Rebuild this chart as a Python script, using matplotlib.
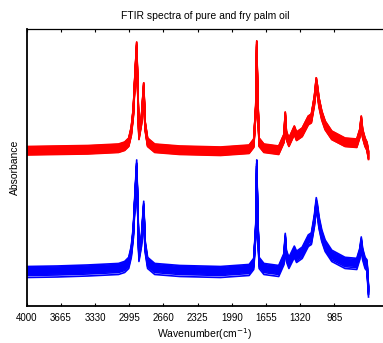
import numpy as np
import matplotlib
matplotlib.use('Agg')
import matplotlib.pyplot as plt

plt.rcParams['font.family'] = ['Liberation Sans', 'DejaVu Sans']

# wavenumber grid (cm^-1)
wavenumber = [4000, 3700, 3400, 3100, 3040, 3000, 2975, 2955, 2940, 2922,
              2912, 2900, 2875, 2853, 2840, 2815, 2745, 2500, 2100, 1820,
              1775, 1755, 1745, 1737, 1722, 1675, 1530, 1478, 1466, 1455,
              1430, 1377, 1355, 1300, 1240, 1210, 1180, 1162, 1150, 1135,
              1108, 1075, 1010, 880, 765, 735, 721, 708, 684, 665, 650]

# upper group (red), stacked absorbance
red_abs = [1.555, 1.56, 1.565, 1.58, 1.60, 1.64, 1.75, 1.94, 2.25, 2.59,
           2.20, 1.71, 1.86, 2.19, 1.81, 1.64, 1.58, 1.56, 1.55, 1.57,
           1.63, 1.96, 2.60, 2.11, 1.64, 1.58, 1.56, 1.68, 1.90, 1.71,
           1.64, 1.76, 1.70, 1.74, 1.86, 1.88, 2.06, 2.24, 2.16, 2.04,
           1.91, 1.81, 1.71, 1.64, 1.63, 1.73, 1.86, 1.73, 1.64, 1.60, 1.51]

# lower group (blue)
blue_abs = [0.355, 0.36, 0.37, 0.385, 0.405, 0.445, 0.555, 0.745, 1.055, 1.40,
            1.005, 0.515, 0.665, 0.995, 0.615, 0.445, 0.385, 0.365, 0.355, 0.375,
            0.435, 0.765, 1.40, 0.915, 0.445, 0.385, 0.365, 0.485, 0.68, 0.515,
            0.445, 0.555, 0.505, 0.545, 0.665, 0.685, 0.865, 1.03, 0.965, 0.845,
            0.715, 0.615, 0.515, 0.445, 0.435, 0.535, 0.645, 0.535, 0.445, 0.42, 0.16]

# spread of the individual sample spectra (baseline shift, peak gain)
red_shift = [-0.045, -0.04, -0.035, -0.03, -0.025, -0.02, -0.015, -0.01, -0.005,
             0.0, 0.005, 0.01, 0.015, 0.02, 0.025, 0.03, 0.035, 0.04]
red_gain = [1.0, 0.97, 1.02, 0.99, 1.03, 0.98, 1.0, 1.01, 0.97,
            1.02, 0.99, 1.0, 0.98, 1.03, 1.0, 0.99, 1.01, 1.0]
blue_shift = [-0.07, -0.05, -0.04, -0.03, -0.025, -0.02, -0.015, -0.01, -0.005,
              0.0, 0.005, 0.01, 0.015, 0.02, 0.03, 0.04]
blue_gain = [1.0, 0.98, 1.01, 0.99, 1.02, 1.0, 0.98, 1.01, 0.99,
             1.02, 1.0, 0.99, 1.01, 0.98, 1.0, 1.02]

xticks = [4000, 3665, 3330, 2995, 2660, 2325, 1990, 1655, 1320, 985]

fig = plt.figure(figsize=(3.83, 3.43), dpi=100)
ax = fig.add_axes([0.0697, 0.1079, 0.9303, 0.8076])

wn = np.array(wavenumber)
for abs_, shifts, gains, col in [(red_abs, red_shift, red_gain, 'red'),
                                  (blue_abs, blue_shift, blue_gain, 'blue')]:
    a = np.array(abs_)
    base = a[0]
    for s, g in zip(shifts, gains):
        ax.plot(wn, base + (a - base) * g + s, color=col, lw=1.2)

ax.set_xlim(4000, 508)
ax.set_ylim(0, 2.77)
ax.set_xticks(xticks)
ax.set_xticklabels([str(t) for t in xticks], fontsize=7)
ax.set_yticks([])
ax.tick_params(axis='x', direction='in', length=2.5, width=0.8, top=True, pad=5)
ax.spines['right'].set_visible(False)
ax.spines['top'].set_linewidth(0.9)
for side in ['left', 'bottom']:
    ax.spines[side].set_linewidth(1.3)
ax.set_title('FTIR spectra of pure and fry palm oil', fontsize=7.5, pad=7)
ax.set_xlabel('Wavenumber(cm$^{-1}$)', fontsize=7.5, labelpad=2)
ax.set_ylabel('Absorbance', fontsize=7.5, labelpad=5)

fig.savefig('out.png', dpi=100)
